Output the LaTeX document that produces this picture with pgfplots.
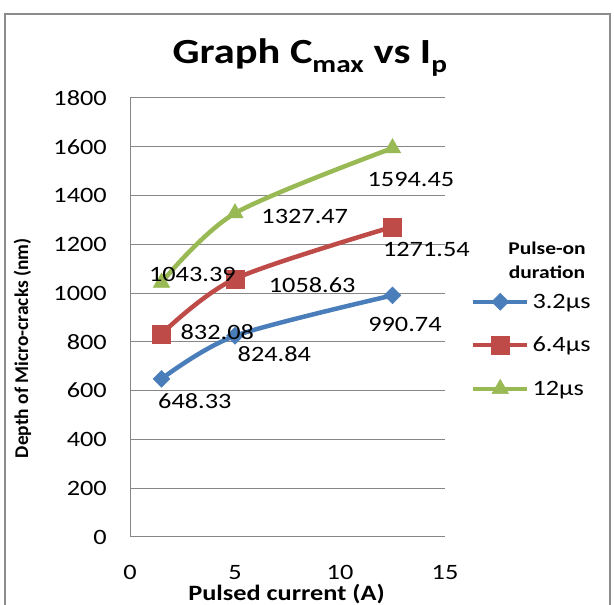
\documentclass[border=0pt]{standalone}
\usepackage{fontspec}
\setmainfont{Carlito}[FakeStretch=1.2]
\newfontfamily\ylabfont{Carlito}
\usepackage{pgfplots}
\usepackage{pgfplotstable}
\pgfplotsset{compat=1.18}
\definecolor{sblue}{HTML}{4A7EBB}
\definecolor{sred}{HTML}{BE4B48}
\definecolor{sgreen}{HTML}{98B954}
\definecolor{gridgray}{HTML}{868686}
\definecolor{framegray}{HTML}{8C8C8C}

\pgfplotstableread{
x y lab dx dy
1.5 648.33 648.33 33.5 -22
5 824.84 824.84 39.5 -18
12.5 990.74 990.74 12.5 -29.5
}\blueT
\pgfplotstableread{
x y lab dx dy
1.5 832.08 832.08 56 2
5 1058.63 1058.63 77.5 -6
12.5 1271.54 1271.54 34 -23
}\redT
\pgfplotstableread{
x y lab dx dy
1.5 1043.39 1043.39 31 8.5
5 1327.47 1327.47 70 -3
12.5 1594.45 1594.45 18.5 -31
}\greenT

\pgfplotsset{
  lbl/.style={
    nodes near coords,
    point meta=explicit symbolic,
    visualization depends on={\thisrow{dx} \as \dx},
    visualization depends on={\thisrow{dy} \as \dy},
    every node near coord/.append style={anchor=center, xshift=\dx, yshift=\dy, font=\fontsize{22}{26}\selectfont, text=black, inner sep=0pt},
  }
}

\begin{document}
\begin{tikzpicture}[x=1bp,y=1bp]
\begin{axis}[
  at={(130bp,68bp)}, anchor=south west,
  scale only axis, width=315bp, height=439bp,
  xmin=0, xmax=15, ymin=0, ymax=1800,
  xtick={0,5,10,15}, ytick={0,200,...,1800},
  axis lines*=left,
  axis line style={draw=gridgray, line width=1bp},
  ymajorgrids, grid style={draw=gridgray, line width=1bp},
  major tick length=0pt,
  /pgf/number format/assume math mode=true,
  /pgf/number format/1000 sep={},
  tick label style={font=\fontsize{22}{26}\selectfont, inner sep=0pt, text=black},
  xticklabel style={anchor=center, yshift=-35.5bp},
  yticklabel style={anchor=east, xshift=-23bp},
  clip=false,
  title={Graph C\raisebox{-9bp}{\fontsize{24.5}{26}\selectfont max} vs I\raisebox{-9bp}{\fontsize{24.5}{26}\selectfont p}},
  title style={font=\bfseries\fontsize{35.5}{40}\selectfont, at={(axis description cs:0.571,1.066)}, anchor=base, inner sep=0pt},
  xlabel={Pulsed current (A)},
  xlabel style={font=\bfseries\fontsize{22}{26}\selectfont, at={(axis description cs:0.497,-0.145)}, anchor=base, inner sep=0pt},
  ylabel={Depth of Micro-cracks (nm)},
  ylabel style={font=\ylabfont\bfseries\fontsize{19.5}{22}\selectfont, at={(axis description cs:-0.3238,0.43)}, anchor=base, inner sep=0pt},
  legend style={at={(axis description cs:1.0825,0.555)}, anchor=north west, draw=none, fill=none, inner sep=0pt, outer sep=0pt, row sep=25.5bp, column sep=3bp, font=\fontsize{22}{26}\selectfont, nodes={inner sep=0pt}},
  legend cell align=left,
  legend image code/.code={\draw[#1, mark repeat=2, mark phase=2] plot coordinates {(0bp,0bp) (27bp,0bp) (54bp,0bp)};},
]
\addplot[smooth, sblue, line width=4.5bp, mark=square*, mark size=6bp, mark options={solid, rotate=45, fill=sblue, draw=sblue, line width=0.5bp}, lbl] table[x=x, y=y, meta=lab] {\blueT};
\addlegendentry{3.2µs}
\addplot[smooth, sred, line width=4.5bp, mark=square*, mark size=9bp, mark options={solid, fill=sred, draw=sred, line width=0.5bp}, lbl] table[x=x, y=y, meta=lab] {\redT};
\addlegendentry{6.4µs}
\addplot[smooth, sgreen, line width=4.5bp, mark=triangle*, mark size=9.5bp, mark options={solid, fill=sgreen, draw=sgreen, line width=0.5bp}, lbl] table[x=x, y=y, meta=lab] {\greenT};
\addlegendentry{12µs}
\node[font=\bfseries\fontsize{18}{24}\selectfont, align=center, inner sep=0pt] at (rel axis cs:1.324,0.631) {Pulse-on\\duration};
\end{axis}
\draw[framegray, line width=2bp] (4.5,-20) -- (4.5,591) -- (610,591) -- (610,-20);
\pgfresetboundingbox
\useasboundingbox (0,0) rectangle (614,605);
\end{tikzpicture}
\end{document}
